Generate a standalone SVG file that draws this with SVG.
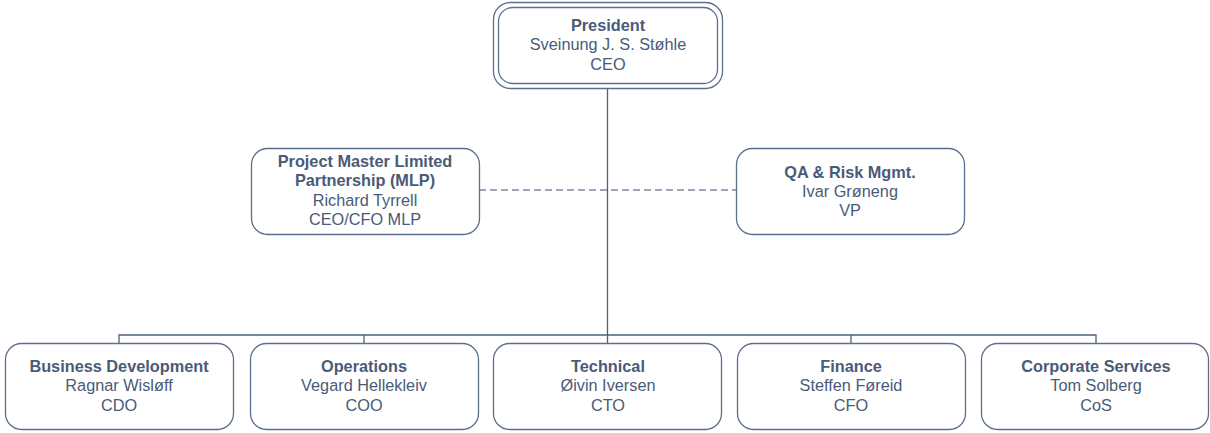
<svg xmlns="http://www.w3.org/2000/svg" width="1210" height="433" viewBox="0 0 1210 433">
<style>
.box{fill:#fff;stroke:#5b6f8c;stroke-width:1.3}
.t{font-family:"Liberation Sans",Arial,sans-serif;font-size:16.3px;fill:#4a5b78;text-anchor:middle}
.b{font-weight:bold}
.ln{fill:none;stroke:#4a6080;stroke-width:1.3}
.dash{fill:none;stroke:#7a8aa2;stroke-width:1.3;stroke-dasharray:7 4}
</style>
<rect width="1210" height="433" fill="#fff"/>
<g id="connectors">
<line class="ln" x1="607.5" y1="88" x2="607.5" y2="343"/>
<polyline class="ln" points="119,343 119,335 1096,335 1096,343"/>
<line class="ln" x1="364" y1="335" x2="364" y2="343"/>
<line class="ln" x1="851" y1="335" x2="851" y2="343"/>
<line class="dash" x1="479" y1="190" x2="736" y2="190"/>
</g>
<g id="president">
<rect class="box" x="493.5" y="2.5" width="229" height="86" rx="17"/>
<rect class="box" x="498.5" y="7.5" width="219" height="76" rx="14"/>
<text class="t b" x="608" y="30.5">President</text>
<text class="t" x="608" y="50">Sveinung J. S. Støhle</text>
<text class="t" x="608" y="69.5">CEO</text>
</g>
<g id="mlp">
<rect class="box" x="251.5" y="148.5" width="228" height="86" rx="16"/>
<text class="t b" x="365" y="166.5">Project Master Limited</text>
<text class="t b" x="365" y="186">Partnership (MLP)</text>
<text class="t" x="365" y="205.5">Richard Tyrrell</text>
<text class="t" x="365" y="225">CEO/CFO MLP</text>
</g>
<g id="qa">
<rect class="box" x="736.5" y="148.5" width="228" height="86" rx="16"/>
<text class="t b" x="850" y="177.5">QA &amp; Risk Mgmt.</text>
<text class="t" x="850" y="196.5">Ivar Grøneng</text>
<text class="t" x="850" y="216">VP</text>
</g>
<g id="bizdev">
<rect class="box" x="5.5" y="343.5" width="228" height="86" rx="16"/>
<text class="t b" x="119" y="371.5">Business Development</text>
<text class="t" x="119" y="391">Ragnar Wisløff</text>
<text class="t" x="119" y="410.5">CDO</text>
</g>
<g id="operations">
<rect class="box" x="250.5" y="343.5" width="228" height="86" rx="16"/>
<text class="t b" x="364" y="371.5">Operations</text>
<text class="t" x="364" y="391">Vegard Hellekleiv</text>
<text class="t" x="364" y="410.5">COO</text>
</g>
<g id="technical">
<rect class="box" x="493.5" y="343.5" width="228" height="86" rx="16"/>
<text class="t b" x="608" y="371.5">Technical</text>
<text class="t" x="608" y="391">Øivin Iversen</text>
<text class="t" x="608" y="410.5">CTO</text>
</g>
<g id="finance">
<rect class="box" x="737.5" y="343.5" width="228" height="86" rx="16"/>
<text class="t b" x="851" y="371.5">Finance</text>
<text class="t" x="851" y="391">Steffen Føreid</text>
<text class="t" x="851" y="410.5">CFO</text>
</g>
<g id="corporate">
<rect class="box" x="981.5" y="343.5" width="227" height="86" rx="16"/>
<text class="t b" x="1096" y="371.5">Corporate Services</text>
<text class="t" x="1096" y="391">Tom Solberg</text>
<text class="t" x="1096" y="410.5">CoS</text>
</g>
</svg>
